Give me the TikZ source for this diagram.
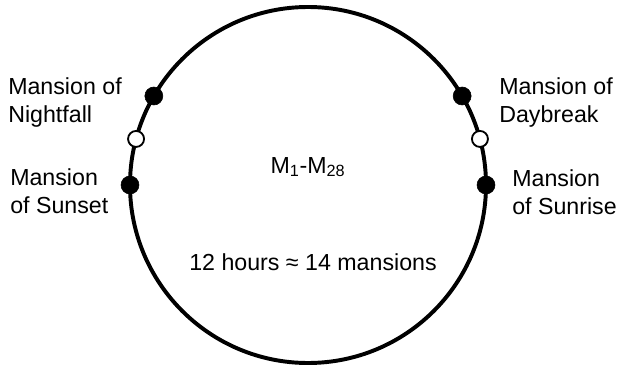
\documentclass[tikz,border=0pt]{standalone}
\usepackage{fontspec}
\setmainfont{Liberation Sans}
\usetikzlibrary{positioning}

\begin{document}
\begin{tikzpicture}[
    ring/.style={line width=2.8pt},
    fulldot/.style={circle, draw=black, fill=black, inner sep=0pt, minimum size=0.45cm},
    opendot/.style={circle, draw=black, fill=white, line width=1.3pt, inner sep=0pt, minimum size=0.40cm},
    txt/.style={font=\fontsize{16.5}{20}\selectfont, align=left, inner sep=0pt}
]
\useasboundingbox (-7.7,-4.525) rectangle (7.725,4.625);

\draw[ring] (0,0) circle (4.45cm);

% mansions on the ring
\node[fulldot] (nightfall) at (150:4.45cm) {};
\node[opendot] (westgap) at (165:4.45cm) {};
\node[fulldot] (sunset) at (180:4.45cm) {};
\node[fulldot] (daybreak) at (30:4.45cm) {};
\node[opendot] (eastgap) at (15:4.45cm) {};
\node[fulldot] (sunrise) at (0:4.45cm) {};

\node[txt, anchor=north west] (nightfalltxt) at (-7.5,2.7) {Mansion of\\Nightfall};
\node[txt, anchor=north west] (sunsettxt) at (-7.45,0.425) {Mansion\\of Sunset};
\node[txt, anchor=north west] (daybreaktxt) at (4.775,2.7) {Mansion of\\Daybreak};
\node[txt, anchor=north west] (sunrisetxt) at (5.1,0.4) {Mansion\\of Sunrise};

\node[txt, anchor=base] (range) at (0,0.3) {M\textsubscript{1}-M\textsubscript{28}};
\node[txt, anchor=base] (hours) at (0.125,-2.125) {12 hours ≈ 14 mansions};

\end{tikzpicture}
\end{document}
